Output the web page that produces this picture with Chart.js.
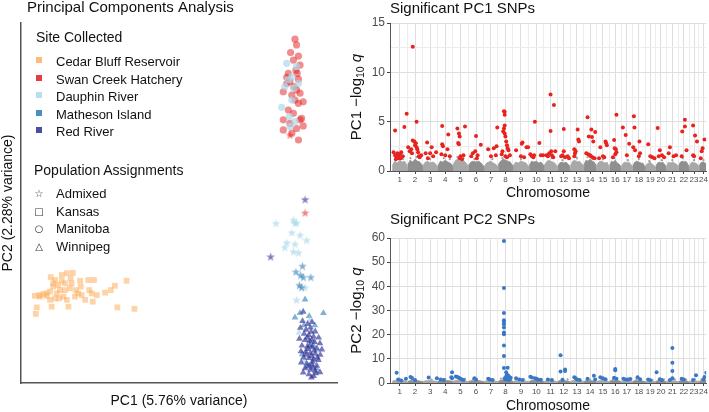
<!DOCTYPE html>
<html>
<head>
<meta charset="utf-8">
<script src="https://cdn.jsdelivr.net/npm/chart.js@4.4.1/dist/chart.umd.min.js"></script>
<style>
  body { margin: 0; width: 709px; height: 412px; position: relative; background: #fff; overflow: hidden;
         font-family: "Liberation Sans", Arial, sans-serif; }
  .box { position: absolute; }
  .lg { position: absolute; white-space: nowrap; color: #111; }
  .t14 { font-size: 14px; line-height: 16px; }
  .t13 { font-size: 13px; line-height: 15px; }
  .sq { position: absolute; width: 6px; height: 6px; }
  .sym { position: absolute; width: 10px; text-align: center; font-family: "DejaVu Sans", sans-serif;
         font-size: 10px; line-height: 10px; color: #333; }
</style>
</head>
<body>
<div class="box" style="left:0;top:0"><canvas id="pca" width="345" height="412"></canvas></div>
<div class="box" style="left:340px;top:0"><canvas id="pc1" width="369" height="206"></canvas></div>
<div class="box" style="left:340px;top:206px"><canvas id="pc2" width="369" height="206"></canvas></div>
<div id="legend"></div>

<script>
// ---------------------------------------------------------------------
// PCA data  (PC1, PC2 scores)
// ---------------------------------------------------------------------
const siteNames = ['Cedar Bluff Reservoir', 'Swan Creek Hatchery', 'Dauphin River', 'Matheson Island', 'Red River'];
const siteColors = ['#fdae61', '#e31a1c', '#abd9e9', '#2c7bb6', '#2b2f93'];
const popNames = ['Admixed', 'Kansas', 'Manitoba', 'Winnipeg'];
const popSymbols = ['\u2606', '\u25A1', '\u25CB', '\u25B3'];

const cedarKansas = [
  [-4.53,-3.08],[-4.50,-2.90],[-4.56,-2.58],[-4.42,-2.56],[-4.29,-2.53],[-4.19,-2.51],[-4.08,-2.46],
  [-4.03,-2.88],[-3.98,-2.32],[-4.06,-2.06],[-3.92,-2.14],[-3.98,-2.23],[-3.82,-2.28],[-3.71,-2.16],
  [-3.87,-2.51],[-3.79,-2.65],[-3.66,-2.60],[-3.55,-2.69],[-3.50,-2.88],[-3.61,-2.42],[-3.45,-2.37],
  [-3.40,-2.23],[-3.43,-2.09],[-3.36,-1.94],[-3.55,-1.95],[-3.71,-2.00],[-3.26,-2.42],[-3.19,-2.51],
  [-3.08,-2.56],[-3.11,-2.32],[-3.13,-2.16],[-2.97,-2.69],[-2.87,-2.14],[-2.69,-2.14],[-2.84,-2.42],
  [-2.76,-2.51],[-2.73,-2.74],[-2.60,-2.56],[-2.34,-2.49],[-2.16,-2.42],[-2.03,-2.30],[-1.66,-2.16],
  [-1.95,-2.90],[-1.41,-2.94],[-3.29,-2.60],[-3.61,-2.23],[-3.77,-2.42],[-3.92,-2.65],[-4.08,-2.69],
  [-4.19,-2.58],[-4.40,-2.60]
];
const swanManitoba = [
  [3.67,4.55],[3.72,4.39],[3.53,4.18],[3.78,4.08],[3.62,3.97],[3.83,3.83],[3.70,3.69],[3.74,3.60],
  [3.41,3.49],[3.78,3.44],[3.51,3.37],[3.64,3.23],[3.30,3.09],[3.72,3.14],[3.83,3.05],[3.57,3.00],
  [3.93,2.81],[3.46,2.58],[3.62,2.49],[3.88,2.35],[3.30,2.31],[3.83,2.31],[3.51,2.21],[3.72,2.07],
  [3.30,2.03],[3.93,2.14],[3.57,1.94],[3.78,1.75],[3.41,3.32],[3.67,2.86],[3.46,3.60],[3.78,2.77]
];
const dauphinManitoba = [
  [3.41,3.88],[3.72,3.79],[3.57,3.51],[3.35,3.23],[3.62,3.19],[3.57,2.86],[3.25,2.66],[3.49,2.40],
  [3.67,2.26],[3.51,2.12],[3.78,3.32],[3.46,3.42]
];
const swanAdmixed = [[3.51,1.89],[3.99,-0.27]];
const redRiverAdmixed = [[3.99,0.10],[2.90,-1.49]];
const dauphinAdmixed = [
  [3.07,-0.56],[3.62,-0.47],[3.72,-0.55],[3.57,-0.82],[3.83,-0.89],[4.04,-1.03],[3.41,-1.10],
  [3.67,-1.14],[3.35,-1.23],[3.62,-1.35],[3.78,-1.38],[3.72,-2.69],[3.67,-0.56],[3.99,-2.35]
];
const mathesonAdmixed = [[3.91,-1.75],[3.70,-1.91],[3.93,-2.06],[4.17,-2.06],[3.81,-2.28],[3.88,-2.34],[3.85,-2.00]];
const mathesonWinnipeg = [
  [3.99,-2.68],[3.67,-3.18],[3.83,-3.06],[4.12,-3.14],[4.57,-3.06],[3.95,-3.40],[4.25,-3.95],
  [3.90,-4.20],[4.35,-4.60],[4.05,-4.55],[4.30,-3.40]
];
const dauphinWinnipeg = [[3.80,-3.60],[4.40,-4.10],[3.97,-4.38],[4.15,-3.25]];
const redRiverWinnipeg = [
  [3.91,-3.28],[4.07,-3.36],[4.21,-3.31],[3.84,-3.47],[4.02,-3.52],[4.16,-3.46],[4.31,-3.57],[3.96,-3.63],
  [4.11,-3.67],[4.26,-3.71],[4.42,-3.74],[3.81,-3.77],[3.99,-3.81],[4.13,-3.84],[4.29,-3.86],[4.46,-3.90],
  [3.89,-3.96],[4.06,-3.99],[4.22,-4.01],[4.36,-4.04],[4.52,-4.07],[3.86,-4.12],[4.01,-4.13],[4.16,-4.17],
  [4.31,-4.19],[4.47,-4.22],[3.94,-4.29],[4.11,-4.31],[4.26,-4.34],[4.41,-4.36],[3.87,-4.43],[4.04,-4.46],
  [4.21,-4.49],[4.36,-4.52],[3.99,-4.59],[4.16,-4.63],[4.31,-4.66],[4.46,-4.70],[4.11,-4.76],[4.26,-4.81],
  [3.93,-4.71],[4.18,-3.58],[4.38,-4.29],[4.08,-4.06],[4.23,-4.41],[3.93,-3.02],[4.33,-4.73],[4.19,-4.85],
  [4.14,-3.95],[4.28,-4.10],[4.02,-4.22],[4.19,-4.25],[4.12,-4.52],[4.24,-4.58],[4.06,-3.74],[4.20,-3.80]
];

// ---------------------------------------------------------------------
// Manhattan data
// ---------------------------------------------------------------------
const chromLengths = [62,61,60,61,61,64,56,60,64,60,54,52,54,51,52,47,46,50,42,43,49,43,39,37]; // Mb
const chromLabels = chromLengths.map((_, i) => String(i + 1));

// [chromosome, relative position in chromosome, -log10 q]
const pc1Sig = [
  [1,.2,4.1],[1,.8,4.45],[1,.95,5.8],[1,.1,1.9],[1,.2,1.6],[1,.3,1.4],[1,.35,1.8],[1,.4,1.5],[1,.5,1.7],[1,.55,1.3],[1,.6,1.9],[1,.7,1.5],[1,.25,1.2],[1,.45,1.3],
  [2,.35,12.6],[2,.6,5.0],[2,.05,2.4],[2,.25,2.2],[2,.3,1.8],[2,.35,3.1],[2,.45,3.0],[2,.5,2.6],[2,.55,2.8],[2,.6,2.4],[2,.65,2.2],[2,.7,1.9],[2,.75,1.5],[2,.8,1.4],[2,.9,1.6],[2,.15,2.0],
  [3,.3,2.9],[3,.6,2.4],[3,.2,1.8],[3,.5,1.8],[3,.7,1.5],[3,.9,1.9],[3,.35,1.3],
  [4,.3,4.55],[4,.7,3.7],[4,.3,2.7],[4,.35,2.5],[4,.65,2.2],[4,.25,1.7],[4,.8,1.5],[4,.5,1.6],
  [5,.3,4.3],[5,.8,4.5],[5,.4,3.8],[5,.45,3.5],[5,.35,2.85],[5,.4,2.7],[5,.5,1.5],[5,.45,1.3],[5,.6,1.2],[5,.7,1.6],
  [6,.5,3.55],[6,.8,2.65],[6,.45,2.0],[6,.3,1.8],[6,.2,1.5],[6,.55,1.3],[6,.6,1.6],
  [7,.3,2.2],[7,.5,1.5],[7,.7,2.3],[7,.85,1.6],[7,.95,4.4],[7,.9,2.5],
  [8,.4,6.05],[8,.45,6.0],[8,.45,5.7],[8,.45,4.6],[8,.4,4.3],[8,.35,4.0],[8,.45,3.8],[8,.5,3.5],[8,.55,3.0],[8,.6,2.6],[8,.65,2.3],[8,.3,2.0],[8,.25,1.7],[8,.5,1.5],[8,.6,1.4],[8,.7,2.1],[8,.8,1.6],
  [9,.6,2.9],[9,.55,2.75],[9,.85,2.4],[9,.95,2.4],[9,.2,2.1],[9,.5,1.5],[9,.7,1.4],
  [10,.4,5.0],[10,.7,2.85],[10,.1,1.7],[10,.2,1.5],[10,.3,1.4],[10,.35,1.6],[10,.8,1.6],[10,.95,1.6],
  [11,.5,7.75],[11,.75,6.7],[11,.5,4.05],[11,.2,1.6],[11,.3,1.5],[11,.4,1.8],[11,.55,2.0],[11,.6,1.6],[11,.7,1.4],[11,.85,2.0],
  [12,.5,4.25],[12,.3,1.5],[12,.4,1.6],[12,.5,2.0],[12,.6,1.4],[12,.8,1.5],[12,.9,1.3],
  [13,.55,4.2],[13,.6,3.2],[13,.65,3.0],[13,.3,2.2],[13,.4,2.0],[13,.35,1.8],[13,.3,1.5],
  [14,.3,5.45],[14,.6,4.2],[14,.4,3.5],[14,.65,3.45],[14,.9,3.95],[14,.75,3.0],[14,.2,1.8],[14,.35,1.7],[14,.5,1.6],[14,.55,1.5],[14,.7,1.4],[14,.85,1.3],
  [15,.3,2.4],[15,.7,3.0],[15,.75,2.8],[15,.8,2.6],[15,.5,1.5],[15,.6,1.4],[15,.2,1.3],
  [16,.6,5.7],[16,.4,3.15],[16,.45,2.3],[16,.55,2.2],[16,.6,1.9],[16,.5,1.7],[16,.3,1.4],
  [17,.15,4.4],[17,.4,3.65],[17,.7,2.75],[17,.5,1.6],
  [18,.1,5.55],[18,.15,4.4],[18,.05,2.4],[18,.2,2.1],[18,.55,3.0],[18,.6,1.8],[18,.5,1.5],
  [19,.3,2.7],[19,.5,1.5],[19,.7,1.4],[19,.9,1.3],
  [20,.2,4.35],[20,.4,2.1],[20,.6,1.6],[20,.3,1.5],[20,.8,1.4],
  [21,.3,2.4],[21,.2,1.8],[21,.6,1.5],[21,.8,1.6],
  [22,.6,5.2],[22,.6,4.5],[22,.35,4.0],[22,.75,2.1],[22,.3,1.5],
  [23,.4,4.6],[23,.6,3.6],[23,.8,3.0],[23,.4,1.6],[23,.5,1.5],
  [24,.6,3.2],[24,.4,2.3],[24,.3,2.0],[24,.2,1.3]
];
const pc2Sig = [
  [1,.3,4.2],[1,.4,1.4],[1,.6,1.0],[1,.9,1.8],
  [2,.2,2.5],[2,.3,2.1],[2,.5,1.2],
  [3,.4,2.3],[3,.95,2.0],
  [4,.2,1.5],[4,.4,1.2],[4,.95,4.5],[4,.9,2.4],[4,.95,2.0],
  [5,.2,2.7],[5,.3,2.5],[5,.4,2.2],[5,.5,1.8],[5,.6,1.5],[5,.7,1.2],
  [6,.4,2.0],[6,.5,1.4],
  [7,.3,1.8],[7,.4,1.5],[7,.6,1.2],
  [8,.4,58.8],[8,.4,39.3],[8,.4,29.0],[8,.4,26.0],[8,.4,25.2],[8,.4,24.3],[8,.4,23.0],[8,.4,20.9],[8,.4,20.2],[8,.4,15.5],[8,.4,11.2],[8,.4,6.2],
  [8,.65,6.3],[8,.55,4.5],[8,.6,3.5],[8,.7,3.0],[8,.75,2.5],[8,.45,2.0],[8,.65,2.0],[8,.5,1.5],[8,.8,1.5],[8,.85,2.2],[8,.55,2.8],[8,.7,1.2],
  [9,.2,2.0],[9,.4,1.5],[9,.6,1.2],
  [10,.1,2.6],[10,.2,2.3],[10,.4,2.0],[10,.5,1.8],[10,.6,1.5],[10,.8,1.3],
  [11,.3,1.4],[11,.6,1.2],
  [12,.25,11.5],[12,.25,4.8],[12,.6,5.6],[12,.6,5.0],[12,.4,1.3],
  [13,.3,2.4],[13,.4,2.0],[13,.5,1.5],[13,.7,1.2],
  [14,.3,1.8],[14,.8,3.0],[14,.9,1.5],
  [15,.3,2.4],[15,.5,2.0],[15,.7,1.6],
  [16,.5,5.8],[16,.5,5.3],[16,.4,2.2],[16,.6,1.8],
  [17,.2,1.8],[17,.4,1.5],[17,.6,1.4],[17,.8,1.7],
  [18,.4,2.4],[18,.6,1.6],
  [19,.3,1.4],[19,.5,1.1],
  [20,.1,4.5],[20,.4,1.6],[20,.6,1.2],
  [21,.5,14.5],[21,.5,8.4],[21,.5,5.0],[21,.5,2.0],[21,.3,1.2],
  [22,.3,1.8],[22,.5,1.4],
  [23,.7,3.2],[23,.4,1.2],
  [24,.8,4.2],[24,.6,2.5],[24,.5,1.5]
];

// top of the dense non-significant band, 7 samples per chromosome
const bandPos = [0.04, 0.18, 0.33, 0.5, 0.67, 0.82, 0.96];
const pc1Band = [
  [.6,1.0,.8,1.1,.9,1.0,.6],[.7,1.1,.9,1.2,1.0,.9,.6],[.6,.9,1.0,.8,.9,.8,.5],[.6,1.0,.9,1.1,.9,.8,.6],
  [.7,1.1,1.2,1.0,1.1,.9,.6],[.6,.9,1.0,.9,1.0,.8,.5],[.5,.8,.9,1.0,.8,.7,.5],[.7,1.0,1.2,1.1,1.0,.9,.6],
  [.6,.9,.8,1.0,.9,.8,.5],[.6,1.0,.9,1.0,.8,.9,.6],[.6,.9,1.1,1.0,.9,.8,.5],[.5,.8,.9,.8,.9,.7,.5],
  [.6,1.0,1.1,.9,1.0,.8,.6],[.7,1.1,1.0,1.2,1.0,.9,.6],[.6,.9,1.0,.9,.8,.9,.5],[.6,1.0,.9,1.1,.8,.7,.5],
  [.5,.8,.9,.8,.9,.7,.5],[.6,.9,1.0,.9,.8,.8,.5],[.5,.7,.8,.9,.7,.6,.4],[.5,.8,.9,.8,.9,.7,.5],
  [.5,.9,.8,.9,.8,.7,.5],[.6,.9,1.0,.9,1.0,.8,.5],[.5,.8,.9,.8,.8,.7,.5],[.5,.8,.9,.9,.8,.7,.5]
];
const pc2Band = [
  [.8,1.1,.9,1.2,1.0,.9,.7],[.7,1.0,1.1,.9,1.0,.8,.6],[.7,.9,1.0,1.1,.9,.8,.6],[.8,1.0,.9,1.1,1.0,.9,.7],
  [.8,1.1,1.2,1.0,1.1,.9,.7],[.7,.9,1.0,.9,1.0,.8,.6],[.7,.9,1.0,1.1,.9,.8,.6],[.8,1.1,1.3,1.2,1.1,1.0,.7],
  [.7,1.0,.9,1.0,.9,.8,.6],[.8,1.0,1.1,1.0,.9,1.0,.7],[.7,.9,1.0,.9,1.0,.8,.6],[.7,1.0,.9,1.1,.9,.8,.6],
  [.8,1.0,1.1,1.0,1.1,.9,.7],[.7,1.0,.9,1.0,.9,.8,.6],[.7,.9,1.0,1.1,.9,.9,.6],[.8,1.1,1.0,1.2,1.0,.9,.7],
  [.7,.9,1.0,.9,1.0,.8,.6],[.7,1.0,.9,1.0,.9,.8,.6],[.6,.8,.9,1.0,.8,.7,.6],[.7,.9,1.0,.9,1.0,.8,.6],
  [.7,1.0,.9,1.0,.9,.8,.6],[.7,.9,1.0,1.1,.9,.8,.6],[.6,.9,1.0,.9,.9,.8,.6],[.7,1.0,1.1,1.0,1.1,.9,.7]
];
// scattered non-significant SNPs above the band
const pc1Fringe = [
  [1,.3,1.3],[1,.7,1.2],[2,.2,1.3],[2,.6,1.4],[3,.5,1.2],[4,.4,1.3],[4,.8,1.2],[5,.3,1.4],[5,.7,1.3],[6,.4,1.2],
  [7,.6,1.2],[8,.3,1.3],[8,.7,1.4],[9,.5,1.2],[10,.3,1.3],[11,.6,1.3],[12,.4,1.1],[13,.5,1.3],[14,.3,1.4],[14,.7,1.2],
  [15,.5,1.2],[16,.4,1.3],[17,.6,1.1],[18,.5,1.2],[19,.4,1.0],[20,.6,1.1],[21,.5,1.1],[22,.4,1.3],[23,.5,1.1],[24,.5,1.1]
];
const pc2Fringe = [
  [1,.5,1.6],[2,.4,1.5],[3,.6,1.4],[4,.5,1.6],[5,.8,1.7],[6,.3,1.5],[7,.7,1.4],[8,.2,1.8],[9,.7,1.5],[10,.7,1.6],
  [11,.4,1.4],[12,.8,1.5],[13,.6,1.6],[14,.5,1.4],[15,.4,1.5],[16,.3,1.6],[17,.5,1.5],[18,.3,1.4],[19,.7,1.3],
  [20,.8,1.4],[21,.7,1.5],[22,.7,1.4],[23,.6,1.5],[24,.3,1.6]
];

// ---------------------------------------------------------------------
Chart.defaults.font.family = '"Liberation Sans", Arial, sans-serif';
Chart.defaults.animation = false;
Chart.defaults.plugins.legend.display = false;
Chart.defaults.plugins.tooltip.enabled = false;
const FONT = '"Liberation Sans", Arial, sans-serif';

function rgba(hex, a) {
  const n = parseInt(hex.slice(1), 16);
  return `rgba(${n >> 16},${(n >> 8) & 255},${n & 255},${a})`;
}

function starImg(color, size) {
  const c = document.createElement('canvas');
  c.width = c.height = size;
  const g = c.getContext('2d');
  g.fillStyle = color;
  g.beginPath();
  for (let i = 0; i < 10; i++) {
    const r = i % 2 ? size * 0.2 : size / 2;
    const a = -Math.PI / 2 + i * Math.PI / 5;
    g.lineTo(size / 2 + r * Math.cos(a), size / 2 + 0.5 + r * Math.sin(a));
  }
  g.closePath();
  g.fill();
  return c;
}

// draws titles / axis labels; parts allow the subscript in -log10 q
function textPlugin(items) {
  return {
    id: 'txt',
    afterDraw(chart) {
      const g = chart.ctx;
      items.forEach(t => {
        g.save();
        g.fillStyle = t.color || '#111';
        g.textBaseline = 'alphabetic';
        g.translate(t.x, t.y);
        if (t.rot) g.rotate(t.rot);
        const parts = t.parts || [{ text: t.text, font: t.font }];
        let w = 0;
        parts.forEach(p => { g.font = p.font; w += g.measureText(p.text).width; });
        let x = t.align === 'center' ? -w / 2 : 0;
        g.textAlign = 'left';
        parts.forEach(p => {
          g.font = p.font;
          g.fillText(p.text, x, p.dy || 0);
          x += g.measureText(p.text).width;
        });
        g.restore();
      });
    }
  };
}

// ---------------------------------------------------------------------
// PCA scatter
// ---------------------------------------------------------------------
const toPts = arr => arr.map(([x, y]) => ({ x, y }));
function pcaSet(data, color, alpha, style, radius, order) {
  return {
    data: toPts(data), order,
    pointStyle: style === 'star' ? starImg(rgba(color, alpha), 9) : style,
    pointRadius: radius, pointBackgroundColor: rgba(color, alpha), pointBorderWidth: 0
  };
}

new Chart(document.getElementById('pca'), {
  type: 'scatter',
  data: {
    datasets: [
      pcaSet(redRiverWinnipeg, siteColors[4], 0.65, 'triangle', 3.9, 0),
      pcaSet(dauphinWinnipeg, siteColors[2], 0.7, 'triangle', 3.9, 1),
      pcaSet(mathesonWinnipeg, siteColors[3], 0.6, 'triangle', 3.9, 2),
      pcaSet(mathesonAdmixed, siteColors[3], 0.6, 'star', 4, 3),
      pcaSet(redRiverAdmixed, siteColors[4], 0.6, 'star', 4, 4),
      pcaSet(swanAdmixed, siteColors[1], 0.55, 'star', 4, 5),
      pcaSet(dauphinAdmixed, siteColors[2], 0.7, 'star', 4, 6),
      pcaSet(dauphinManitoba, siteColors[2], 0.7, 'circle', 3.6, 7),
      pcaSet(swanManitoba, siteColors[1], 0.5, 'circle', 3.6, 8),
      pcaSet(cedarKansas, siteColors[0], 0.55, 'rect', 4.1, 9)
    ]
  },
  options: {
    responsive: false,
    layout: { autoPadding: false, padding: { left: 0, top: 23, right: 8, bottom: 29 } },
    scales: {
      x: { type: 'linear', min: -5, max: 5, ticks: { display: false }, grid: { display: false, drawTicks: false },
           border: { color: '#555', width: 1.5 }, afterFit: s => { s.height = 0; } },
      y: { type: 'linear', min: -5, max: 5, ticks: { display: false }, grid: { display: false, drawTicks: false },
           border: { color: '#555', width: 1.5 }, afterFit: s => { s.width = 21; } }
    }
  },
  plugins: [textPlugin([
    { text: 'Principal Components Analysis', font: '15px ' + FONT, x: 27, y: 11.5 },
    { text: 'PC1 (5.76% variance)', font: '14px ' + FONT, x: 179, y: 405, align: 'center' },
    { text: 'PC2 (2.28% variance)', font: '14px ' + FONT, x: 12.3, y: 203, align: 'center', rot: -Math.PI / 2 }
  ])]
});

// ---------------------------------------------------------------------
// Manhattan plots
// ---------------------------------------------------------------------
const chromStart = [];
let acc = 0;
chromLengths.forEach(l => { chromStart.push(acc); acc += l; });
const posOf = (c, rel) => chromStart[c - 1] + rel * chromLengths[c - 1];
const majorTicks = chromLengths.map((l, i) => chromStart[i] + l / 2);
const minorTicks = chromStart.slice(1);
const allTicks = majorTicks.concat(minorTicks).sort((a, b) => a - b);
const majorSet = new Set(majorTicks);

function makeManhattan(id, o) {
  const datasets = [];
  datasets.push({
    data: o.sig.map(([c, r, v]) => ({ x: posOf(c, r), y: v })), order: 0,
    pointRadius: 2, pointBackgroundColor: o.color, pointBorderWidth: 0
  });
  datasets.push({
    data: o.fringe.map(([c, r, v]) => ({ x: posOf(c, r), y: v })), order: 1,
    pointRadius: 1.1, pointBackgroundColor: '#a0a0a0', pointBorderWidth: 0
  });
  o.band.forEach((hs, i) => {
    const c = i + 1;
    const pts = [{ x: posOf(c, 0.01), y: 0 }]
      .concat(bandPos.map((p, j) => ({ x: posOf(c, p), y: hs[j] })))
      .concat([{ x: posOf(c, 0.99), y: 0 }]);
    const col = i % 2 ? '#8f8f8f' : '#a8a8a8';
    datasets.push({
      type: 'line', data: pts, order: 2, fill: 'origin', pointRadius: 0, borderWidth: 0.8,
      borderColor: col, backgroundColor: col, tension: 0
    });
  });

  new Chart(document.getElementById(id), {
    type: 'scatter',
    data: { datasets },
    options: {
      responsive: false,
      layout: { autoPadding: false, padding: { left: 0, top: o.top, right: 2, bottom: 0 } },
      scales: {
        x: {
          type: 'linear', min: -8, max: 1260,
          afterBuildTicks: s => { s.ticks = allTicks.map(v => ({ value: v })); },
          afterFit: s => { s.height = o.xHeight; },
          ticks: {
            autoSkip: false, maxRotation: 0, padding: 1, color: '#4d4d4d', font: { size: 8 },
            callback: v => { const k = majorTicks.indexOf(v); return k >= 0 ? chromLabels[k] : ''; }
          },
          grid: {
            color: c => majorSet.has(c.tick.value) ? '#dedede' : '#ececec',
            tickColor: c => majorSet.has(c.tick.value) ? '#444' : 'rgba(0,0,0,0)',
            tickLength: 3
          },
          border: { color: '#555', width: 1 }
        },
        y: {
          min: 0, max: o.yMax,
          afterFit: s => { s.width = 50; },
          ticks: {
            stepSize: o.yStep, padding: 2, color: '#4d4d4d', font: { size: 12 },
            callback: v => v % o.yLabelStep === 0 ? String(v) : ''
          },
          grid: {
            color: c => c.tick.value % o.yLabelStep === 0 ? '#dedede' : '#ececec',
            tickColor: c => c.tick.value % o.yLabelStep === 0 ? '#444' : 'rgba(0,0,0,0)',
            tickLength: 3
          },
          border: { color: '#555', width: 1 }
        }
      }
    },
    plugins: [textPlugin([
      { text: o.title, font: '15px ' + FONT, x: 50, y: o.titleY },
      { text: 'Chromosome', font: '14px ' + FONT, x: 208, y: o.xTitleY, align: 'center' },
      { x: 20.5, y: o.yTitleCY, align: 'center', rot: -Math.PI / 2, parts: [
        { text: o.pc + ' \u2212log', font: '15px ' + FONT },
        { text: '10', font: '10.5px ' + FONT, dy: 3.5 },
        { text: ' q', font: 'italic 15px ' + FONT }
      ] }
    ])]
  });
}

makeManhattan('pc1', {
  sig: pc1Sig, band: pc1Band, fringe: pc1Fringe, color: '#e8231f',
  yMax: 15, yStep: 2.5, yLabelStep: 5, top: 23, xHeight: 35,
  title: 'Significant PC1 SNPs', pc: 'PC1', titleY: 12.5, xTitleY: 197, yTitleCY: 97
});
makeManhattan('pc2', {
  sig: pc2Sig, band: pc2Band, fringe: pc2Fringe, color: '#3a78c6',
  yMax: 60, yStep: 5, yLabelStep: 10, top: 32, xHeight: 29,
  title: 'Significant PC2 SNPs', pc: 'PC2', titleY: 18, xTitleY: 203.5, yTitleCY: 104.5
});

// ---------------------------------------------------------------------
// PCA legend (HTML)
// ---------------------------------------------------------------------
const lg = document.getElementById('legend');
let html = '<div class="lg t14" style="left:36px;top:29px">Site Collected</div>';
siteNames.forEach((n, i) => {
  const base = 66 + i * 17.5;
  html += `<div class="sq" style="left:36px;top:${base - 9}px;background:${rgba(siteColors[i], 0.85)}"></div>`;
  html += `<div class="lg t13" style="left:56px;top:${base - 12}px">${n}</div>`;
});
html += '<div class="lg t14" style="left:34px;top:162px">Population Assignments</div>';
popNames.forEach((n, i) => {
  const base = 198 + i * 17.5;
  html += `<div class="sym" style="left:34px;top:${base - 9}px">${popSymbols[i]}</div>`;
  html += `<div class="lg t13" style="left:56px;top:${base - 12}px">${n}</div>`;
});
lg.innerHTML = html;
</script>
</body>
</html>
